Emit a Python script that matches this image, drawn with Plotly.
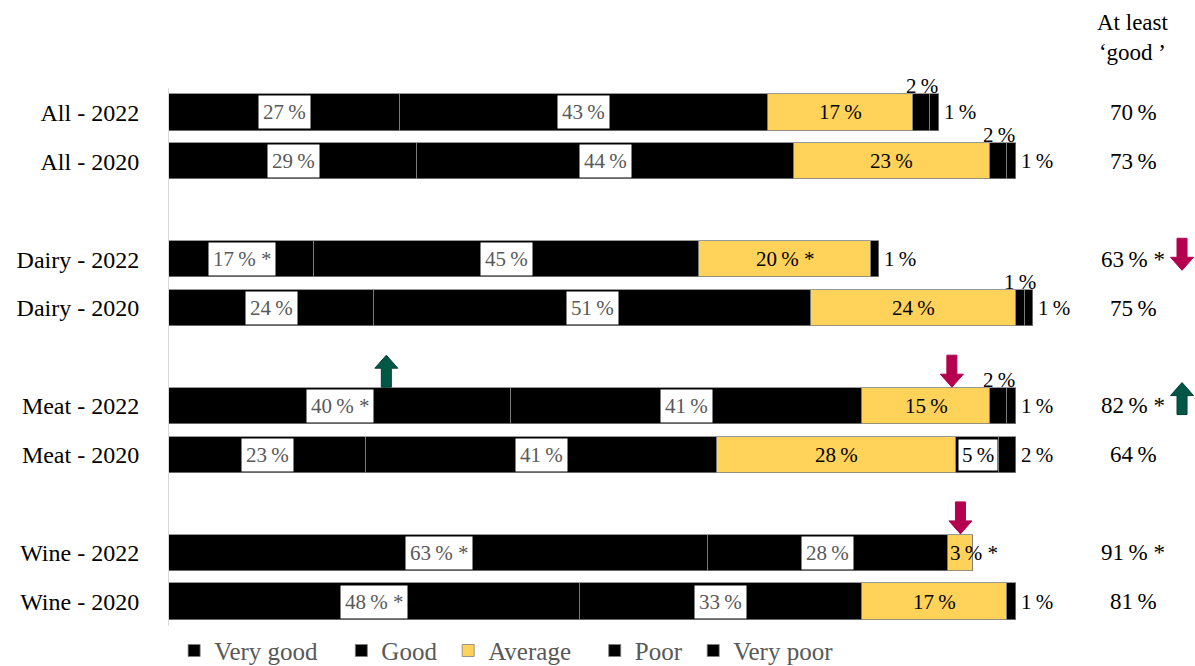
import plotly.graph_objects as go

# Survey ratings by product group and year (percent of respondents)
rows = ["All - 2022", "All - 2020", "Dairy - 2022", "Dairy - 2020",
        "Meat - 2022", "Meat - 2020", "Wine - 2022", "Wine - 2020"]
row_slots = [0, 1, 3, 4, 6, 7, 9, 10]

series_names = ["Very good", "Good", "Average", "Poor", "Very poor"]
very_good = [27, 29, 17, 24, 40, 23, 63, 48]
good = [43, 44, 45, 51, 41, 41, 28, 33]
average = [17, 23, 20, 24, 15, 28, 3, 17]
poor = [2, 2, 0, 1, 2, 5, 0, 0]
very_poor = [1, 1, 1, 1, 1, 2, 0, 1]

# significant change markers (*) per series
very_good_sig = [False, False, True, False, True, False, True, True]
good_sig = [False] * 8
average_sig = [False, False, True, False, False, False, True, False]
poor_sig = [False] * 8
very_poor_sig = [False] * 8

at_least_good = [70, 73, 63, 75, 82, 64, 91, 81]
at_least_good_sig = [False, False, True, False, True, False, True, False]

# change arrows: (row, series, direction)
changes = [("Dairy - 2022", "total", "down"),
           ("Meat - 2022", "Very good", "up"),
           ("Meat - 2022", "Average", "down"),
           ("Meat - 2022", "total", "up"),
           ("Wine - 2022", "Average", "down")]

series_values = [very_good, good, average, poor, very_poor]
series_sig = [very_good_sig, good_sig, average_sig, poor_sig, very_poor_sig]
colors = ["#000000", "#000000", "#FFD25A", "#000000", "#000000"]

# extra trailing space after each legend entry
legend_pad = {"Very good": 3, "Good": 1, "Average": 3, "Poor": 1, "Very poor": 0}

FONT = "Liberation Serif, Times New Roman, serif"
GREY = "#595959"
RED = "#B4004E"
GREEN = "#005746"
BAR_W = 0.74
PX_PER_PCT = 8.556
PLOT_W = 1195 - 169
X_MAX = PLOT_W / PX_PER_PCT
TOTAL_X = 112.7
ARROW_X = 118.4


def pct(v, star=False):
    return f"{v}\u2009%" + (" *" if star else "")


fig = go.Figure()
for name, vals, col in zip(series_names, series_values, colors):
    fig.add_trace(go.Bar(
        name=name + "\u00a0" * legend_pad[name], y=row_slots, x=vals,
        orientation="h", width=BAR_W,
        marker=dict(color=col, line=dict(color="#7F7F7F", width=0.8)),
        hoverinfo="x+name",
    ))

annotations = []
for i, slot in enumerate(row_slots):
    start = 0
    total = sum(s[i] for s in series_values)
    for j, (vals, sig) in enumerate(zip(series_values, series_sig)):
        v = vals[i]
        if v == 0:
            continue
        mid = start + v / 2
        text = pct(v, sig[i])
        if j in (0, 1):
            annotations.append(dict(
                x=mid, y=slot, text=text, showarrow=False, bgcolor="white",
                borderpad=4, font=dict(family=FONT, size=21, color=GREY)))
        elif j == 2:
            if v >= 5:
                annotations.append(dict(
                    x=mid, y=slot, text=text, showarrow=False,
                    font=dict(family=FONT, size=21, color="black")))
            else:
                annotations.append(dict(
                    x=start, y=slot, text=text, showarrow=False, xanchor="left",
                    font=dict(family=FONT, size=21, color="black")))
        elif j == 3:
            if v >= 4:
                annotations.append(dict(
                    x=mid, y=slot, text=text, showarrow=False, bgcolor="white",
                    borderpad=3, font=dict(family=FONT, size=21, color="black")))
            else:
                annotations.append(dict(
                    x=mid, y=slot - BAR_W / 2, text=text, showarrow=False,
                    yanchor="bottom", yshift=-6,
                    font=dict(family=FONT, size=21, color="black")))
        else:
            annotations.append(dict(
                x=total, y=slot, text=text, showarrow=False, xanchor="left",
                xshift=3, font=dict(family=FONT, size=21, color="black")))
        start += v

    annotations.append(dict(
        x=TOTAL_X, y=slot, text=pct(at_least_good[i], at_least_good_sig[i]),
        showarrow=False, font=dict(family=FONT, size=23, color="black")))

annotations.append(dict(
    x=TOTAL_X, y=1.093, yref="paper", yanchor="middle",
    text="At least<br>\u2018good \u2019",
    showarrow=False, font=dict(family=FONT, size=23, color="black")))

# block arrows marking significant changes
DOWN = "M -5,16 L 5,16 L 5,-3 L 11.5,-3 L 0,-16 L -11.5,-3 L -5,-3 Z"
UP = "M -5,-16 L 5,-16 L 5,3 L 11.5,3 L 0,16 L -11.5,3 L -5,3 Z"
shapes = []
for row, target, direction in changes:
    i = rows.index(row)
    slot = row_slots[i]
    if target == "total":
        ax = ARROW_X
        ay = slot - (0.1 if direction == "down" else 0.15)
    else:
        j = series_names.index(target)
        start = sum(series_values[k][i] for k in range(j))
        v = series_values[j][i]
        ax = start + v / 2 + (5.4 if target == "Very good" else (3 if v > 5 else 0))
        ay = slot - BAR_W / 2 - 0.34
    shapes.append(dict(
        type="path", xref="x", yref="y", xsizemode="pixel", ysizemode="pixel",
        xanchor=ax, yanchor=ay, path=DOWN if direction == "down" else UP,
        fillcolor=RED if direction == "down" else GREEN,
        line=dict(color=RED if direction == "down" else "#003F33", width=1)))

fig.update_layout(
    barmode="stack",
    width=1195, height=666,
    margin=dict(l=169, r=0, t=88, b=40, autoexpand=False),
    plot_bgcolor="white", paper_bgcolor="white",
    font=dict(family=FONT, size=21, color="black"),
    xaxis=dict(range=[0, X_MAX], showticklabels=False, showgrid=False,
               zeroline=False, showline=False),
    yaxis=dict(range=[10.5, -0.5], tickvals=row_slots, ticktext=rows,
               showgrid=False, zeroline=False, showline=True,
               linecolor="#D9D9D9", linewidth=1, ticks="",
               ticklabelstandoff=24,
               tickfont=dict(family=FONT, size=24, color="black")),
    legend=dict(orientation="h", x=0.005, xanchor="left", y=-0.046,
                yanchor="middle", traceorder="normal",
                font=dict(family=FONT, size=25, color=GREY),
                itemwidth=30),
    annotations=annotations,
    shapes=shapes,
    bargap=0,
)

fig.write_html("out.html")
